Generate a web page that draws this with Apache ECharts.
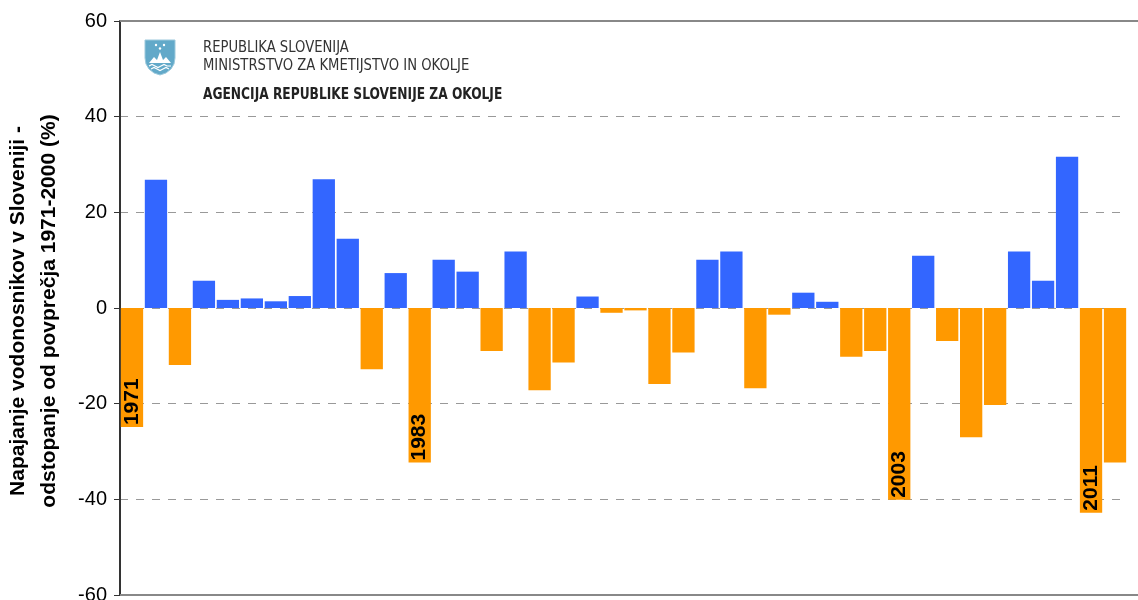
<!DOCTYPE html>
<html>
<head>
<meta charset="utf-8">
<script src="https://cdn.jsdelivr.net/npm/echarts@6/dist/echarts.min.js"></script>
<style>
	html, body { margin: 0; padding: 0; background: #fff; }
	#chart { width: 1138px; height: 600px; }
</style>
</head>
<body>
<div id="chart"></div>
<script>
// leta 1971-2012
var years = [];
for (var y = 1971; y <= 2012; y++) { years.push(String(y)); }

// odstopanje od povprecja 1971-2000 (%)
var deviation = [
	-24.9, 26.8, -11.9, 5.7, 1.7, 2.0, 1.4, 2.5, 26.9, 14.5,
	-12.8, 7.3, -32.3, 10.1, 7.6, -9.0, 11.8, -17.2, -11.4, 2.4,
	-1.0, -0.5, -15.9, -9.3, 10.1, 11.8, -16.8, -1.4, 3.2, 1.3,
	-10.2, -9.0, -40.1, 10.9, -6.9, -27.0, -20.3, 11.8, 5.7, 31.6,
	-42.8, -32.3
];

// leta z oznako na stolpcu
var labeledYears = ["1971", "1983", "2003", "2011"];

var yTicks = { min: -60, max: 60, step: 20 };

var BLUE = "#3366FF";
var ORANGE = "#FF9900";
var plotLeft = 120, plotRight = 1138, plotTop = 21, plotBottom = 595;
var logoFont = "'Liberation Sans Narrow', 'DejaVu Sans Condensed', sans-serif";

var barData = deviation.map(function (v, i) {
	var item = { value: v, itemStyle: { color: v >= 0 ? BLUE : ORANGE } };
	if (labeledYears.indexOf(years[i]) >= 0) {
		item.label = { show: true };
	}
	return item;
});

var chart = echarts.init(document.getElementById("chart"));
chart.setOption({
	animation: false,
	grid: {
		left: plotLeft, right: 11, top: plotTop, bottom: 600 - plotBottom,
		containLabel: false, outerBoundsMode: "none"
	},
	xAxis: {
		type: "category",
		data: years,
		axisLine: { show: false },
		axisTick: { show: false },
		axisLabel: { show: false },
		splitLine: { show: false }
	},
	yAxis: {
		type: "value",
		min: yTicks.min,
		max: yTicks.max,
		interval: yTicks.step,
		name: "Napajanje vodonosnikov v Sloveniji -\nodstopanje od povprečja 1971-2000 (%)",
		nameLocation: "middle",
		nameRotate: 90,
		nameGap: 55,
		nameTextStyle: {
			fontFamily: "Liberation Sans, Arial, sans-serif",
			fontWeight: "bold",
			fontSize: 21,
			lineHeight: 31,
			color: "#000",
			padding: [0, 6, 0, 0]
		},
		axisLine: { show: true, lineStyle: { color: "#333", width: 2 } },
		axisTick: { show: true, length: 6, lineStyle: { color: "#333", width: 1 } },
		axisLabel: {
			fontFamily: "Liberation Sans, Arial, sans-serif",
			fontSize: 20,
			color: "#000",
			margin: 13
		},
		splitLine: { show: true, lineStyle: { color: "#999", type: [8, 8], width: 1 } }
	},
	series: [{
		type: "bar",
		data: barData,
		barCategoryGap: "7%",
		label: {
			show: false,
			position: "insideBottom",
			distance: 2,
			rotate: 90,
			align: "left",
			verticalAlign: "middle",
			fontFamily: "Liberation Sans, Arial, sans-serif",
			fontWeight: "bold",
			fontSize: 21,
			color: "#000",
			formatter: function (p) { return p.name; }
		}
	}],
	graphic: [
		// okvir zgoraj in spodaj
		{ type: "line", shape: { x1: plotLeft, y1: plotTop, x2: plotRight, y2: plotTop }, style: { stroke: "#888", lineWidth: 2 }, z: 10 },
		{ type: "line", shape: { x1: plotLeft, y1: plotBottom, x2: plotRight, y2: plotBottom }, style: { stroke: "#888", lineWidth: 2 }, z: 10 },
		// grb
		{ type: "polygon", shape: { points: [[145, 40], [175, 40], [175, 58], [174, 64], [171, 69], [166, 73], [160, 75], [154, 73], [149, 69], [146, 64], [145, 58]] }, style: { fill: "#62A9C9", stroke: "#9CC9DC", lineWidth: 1 }, z: 10 },
		{ type: "polygon", shape: { points: [[149, 63], [154, 57], [157, 60], [160, 52], [163, 60], [166, 57], [171, 63]] }, style: { fill: "#fff" }, z: 11 },
		{ type: "polyline", shape: { points: [[149, 66], [152, 64.5], [155, 66], [158, 67.5], [161, 66], [164, 64.5], [167, 66], [171, 66]] }, style: { fill: null, stroke: "#fff", lineWidth: 1.2 }, z: 11 },
		{ type: "polyline", shape: { points: [[151, 69], [154, 67.5], [157, 69], [160, 70.5], [163, 69], [166, 67.5], [169, 69]] }, style: { fill: null, stroke: "#fff", lineWidth: 1.2 }, z: 11 },
		{ type: "circle", shape: { cx: 156, cy: 45, r: 1.2 }, style: { fill: "#fff" }, z: 11 },
		{ type: "circle", shape: { cx: 164, cy: 45, r: 1.2 }, style: { fill: "#fff" }, z: 11 },
		{ type: "circle", shape: { cx: 160, cy: 48.5, r: 1.2 }, style: { fill: "#fff" }, z: 11 },
		// besedilo
		{ type: "text", x: 203, y: 40, scaleX: 0.915, style: { text: "REPUBLIKA SLOVENIJA", fill: "#333", font: "16px " + logoFont }, z: 11 },
		{ type: "text", x: 203, y: 58, scaleX: 0.915, style: { text: "MINISTRSTVO ZA KMETIJSTVO IN OKOLJE", fill: "#333", font: "16px " + logoFont }, z: 11 },
		{ type: "text", x: 203, y: 87, scaleX: 0.85, style: { text: "AGENCIJA REPUBLIKE SLOVENIJE ZA OKOLJE", fill: "#222", font: "bold 16px " + logoFont }, z: 11 }
	]
});
</script>
</body>
</html>
